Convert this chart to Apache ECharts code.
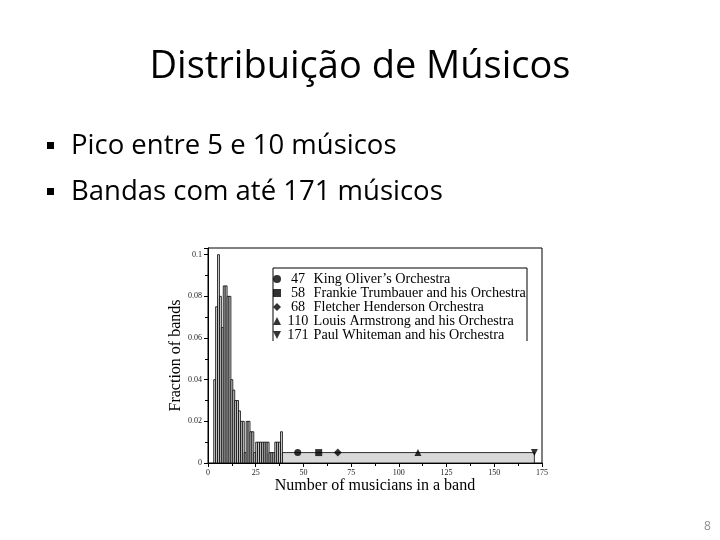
<!DOCTYPE html>
<html>
<head>
<meta charset="utf-8">
<script src="https://cdn.jsdelivr.net/npm/echarts@6/dist/echarts.min.js"></script>
<style>
html,body{margin:0;padding:0;background:#fff;}
#chart{width:720px;height:540px;}
</style>
</head>
<body>
<div id="chart"></div>
<script>
// ---- data ----
const slideTitle = 'Distribuição de Músicos';
const bulletLines = ['Pico entre 5 e 10 músicos', 'Bandas com até 171 músicos'];
const pageNumber = '8';

// histogram bins: left edge, right edge, fraction of bands
const binStart = [3, 4, 5, 6, 7, 8, 9, 10, 11, 12, 13, 14, 15, 16, 17, 18, 19, 20, 21, 22, 23, 24, 25, 26, 27, 28, 29, 30, 31, 32, 33, 34, 35, 36, 37, 38, 39];
const binEnd   = [4, 5, 6, 7, 8, 9, 10, 11, 12, 13, 14, 15, 16, 17, 18, 19, 20, 21, 22, 23, 24, 25, 26, 27, 28, 29, 30, 31, 32, 33, 34, 35, 36, 37, 38, 39, 171];
const fraction = [0.040, 0.075, 0.100, 0.080, 0.065, 0.085, 0.085, 0.080, 0.080, 0.040, 0.035, 0.030, 0.030, 0.025, 0.020, 0.020, 0.005, 0.020, 0.020, 0.015, 0.015, 0.005, 0.010, 0.010, 0.010, 0.010, 0.010, 0.010, 0.010, 0.005, 0.005, 0.005, 0.010, 0.010, 0.010, 0.015, 0.005];

// highlighted bands
const bandSizes = [47, 58, 68, 110, 171];
const bandNames = ["King Oliver’s Orchestra", 'Frankie Trumbauer and his Orchestra', 'Fletcher Henderson Orchestra', 'Louis Armstrong and his Orchestra', 'Paul Whiteman and his Orchestra'];
const bandLevel = [0.005, 0.005, 0.005, 0.005, 0.005];
const bandSymbols = ['circle', 'rect', 'diamond', 'triangle', 'path://M0,0 L10,0 L5,10 Z'];
const bandSymbolSizes = [7, 7, 8, 7, 7];

const xTicks = { min: 0, max: 175, interval: 25 };
const yTicks = { min: 0, max: 0.1032, interval: 0.02 };

// ---- chart ----
const histData = binStart.map((s, i) => [s, binEnd[i], fraction[i]]);
const serif = 'Liberation Serif';
const sans = 'Open Sans';

const bandSeries = bandNames.map((name, i) => ({
  type: 'scatter',
  name: name,
  data: [[bandSizes[i], bandLevel[i]]],
  symbol: bandSymbols[i],
  symbolSize: bandSymbolSizes[i],
  itemStyle: { color: '#000' },
  z: 5
}));

const chart = echarts.init(document.getElementById('chart'), null, { renderer: 'canvas' });
chart.setOption({
  backgroundColor: '#fff',
  animation: false,
  title: {
    text: slideTitle,
    left: 'center',
    top: 43,
    textStyle: { fontFamily: sans, fontSize: 38, fontWeight: 'normal', color: '#000' }
  },
  grid: { left: 208, right: 178, top: 248, bottom: 77, show: true, borderColor: '#000', borderWidth: 1, backgroundColor: 'transparent' },
  legend: {
    orient: 'vertical',
    left: 273,
    top: 272,
    padding: 0,
    itemGap: 0,
    itemWidth: 8,
    itemHeight: 8,
    selectedMode: false,
    data: bandNames,
    formatter: function (name) {
      const i = bandNames.indexOf(name);
      return '{n|' + bandSizes[i] + '} ' + name;
    },
    textStyle: {
      fontFamily: serif, fontSize: 14.2, color: '#000', lineHeight: 14,
      rich: { n: { width: 24, align: 'right', fontFamily: serif, fontSize: 14.2, lineHeight: 14 } }
    }
  },
  xAxis: {
    type: 'value',
    min: xTicks.min, max: xTicks.max, interval: xTicks.interval,
    name: 'Number of musicians in a band',
    nameLocation: 'middle',
    nameGap: 14,
    nameTextStyle: { fontFamily: serif, fontSize: 16, color: '#000' },
    axisLine: { show: true, lineStyle: { color: '#000', width: 1 } },
    axisTick: { show: true, length: 4, lineStyle: { color: '#000' } },
    minorTick: { show: true, splitNumber: 2, length: 3, lineStyle: { color: '#000' } },
    splitLine: { show: false },
    axisLabel: { fontFamily: serif, fontSize: 8, color: '#222', margin: 6 }
  },
  yAxis: {
    type: 'value',
    min: yTicks.min, max: yTicks.max, interval: yTicks.interval,
    name: 'Fraction of bands',
    nameLocation: 'middle',
    nameGap: 19,
    nameTextStyle: { fontFamily: serif, fontSize: 16, color: '#000' },
    axisLine: { show: true, lineStyle: { color: '#000', width: 1 } },
    axisTick: { show: true, length: 4, lineStyle: { color: '#000' } },
    minorTick: { show: true, splitNumber: 2, length: 3, lineStyle: { color: '#000' } },
    splitLine: { show: false },
    axisLabel: { fontFamily: serif, fontSize: 8, color: '#222', margin: 6, showMaxLabel: false }
  },
  series: [
    {
      type: 'custom',
      name: 'hist',
      data: histData,
      encode: { x: [0, 1], y: 2 },
      renderItem: function (params, api) {
        const p0 = api.coord([api.value(0), 0]);
        const p1 = api.coord([api.value(1), api.value(2)]);
        return {
          type: 'rect',
          shape: { x: p0[0], y: p1[1], width: p1[0] - p0[0], height: p0[1] - p1[1] },
          style: { fill: '#d8d8d8', stroke: '#000', lineWidth: 0.8 }
        };
      },
      z: 2
    }
  ].concat(bandSeries),
  graphic: [
    { type: 'polyline', shape: { points: [[273, 341], [273, 268], [527, 268], [527, 341]] }, style: { stroke: '#000', fill: null, lineWidth: 1 }, z: 10 },
    { type: 'rect', shape: { x: 47, y: 142, width: 7, height: 7 }, style: { fill: '#000' } },
    { type: 'text', x: 71, y: 146, style: { text: bulletLines[0], font: '27.5px "Open Sans"', fill: '#000', verticalAlign: 'middle' } },
    { type: 'rect', shape: { x: 47, y: 188, width: 7, height: 7 }, style: { fill: '#000' } },
    { type: 'text', x: 71, y: 192, style: { text: bulletLines[1], font: '27.5px "Open Sans"', fill: '#000', verticalAlign: 'middle' } },
    { type: 'text', x: 704, y: 527, style: { text: pageNumber, font: '12px "Open Sans"', fill: '#8c8c8c', verticalAlign: 'middle' } }
  ]
});
</script>
</body>
</html>
